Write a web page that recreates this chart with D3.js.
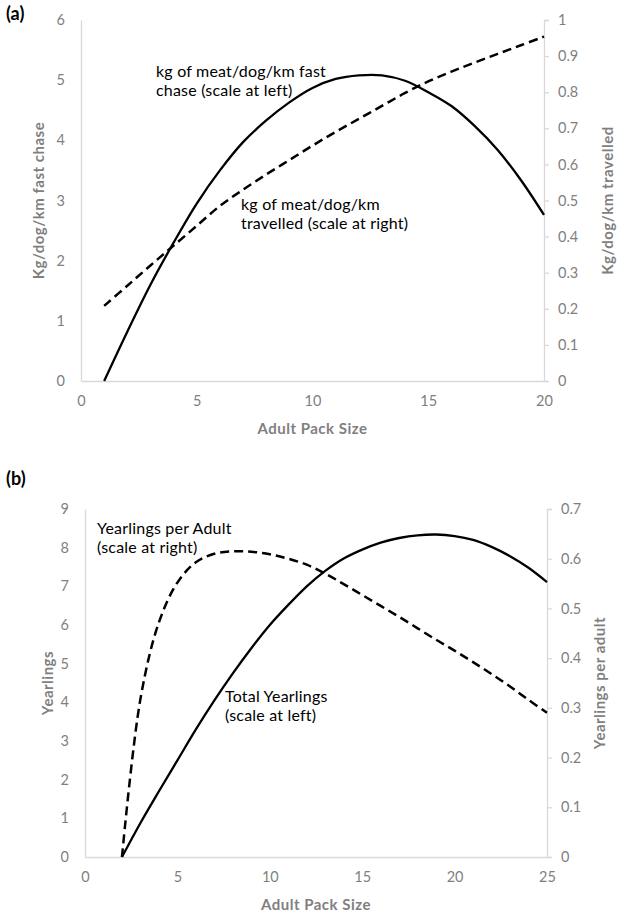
<!DOCTYPE html>
<html>
<head>
<meta charset="utf-8">
<script src="https://cdn.jsdelivr.net/npm/d3@7"></script>
<style>
  body { margin: 0; background: #fff; }
  svg text { font-family: Lato, "Open Sans", sans-serif; }
</style>
</head>
<body>
<svg id="chart" width="617" height="917"></svg>
<script>
// Panel (a): pack size vs kg of meat
var packA = d3.range(1, 21);
var fastChase = [0, 0.82, 1.6, 2.3, 2.95, 3.5, 3.97, 4.33, 4.63, 4.87, 5.02, 5.08, 5.08, 4.99, 4.8, 4.57, 4.24, 3.84, 3.34, 2.76];
var travelled = [0.208, 0.264, 0.32, 0.375, 0.43, 0.485, 0.53, 0.572, 0.612, 0.652, 0.69, 0.726, 0.762, 0.798, 0.83, 0.857, 0.882, 0.906, 0.93, 0.954];

// Panel (b): pack size vs yearlings
var packB = d3.range(2, 26);
var totalYearlings = [0, 0.88, 1.7, 2.5, 3.3, 4.05, 4.75, 5.4, 6.0, 6.52, 7.0, 7.4, 7.72, 7.95, 8.13, 8.25, 8.32, 8.34, 8.3, 8.2, 8.02, 7.78, 7.48, 7.11];
var perAdult = [0, 0.318, 0.472, 0.552, 0.593, 0.61, 0.615, 0.614, 0.609, 0.6, 0.588, 0.57, 0.549, 0.527, 0.505, 0.483, 0.46, 0.437, 0.415, 0.392, 0.368, 0.343, 0.316, 0.29];

// Tick labels
var xTicksA = [0, 5, 10, 15, 20];
var yLeftTicksA = [0, 1, 2, 3, 4, 5, 6];
var yRightTicksA = [0, 0.1, 0.2, 0.3, 0.4, 0.5, 0.6, 0.7, 0.8, 0.9, 1];
var xTicksB = [0, 5, 10, 15, 20, 25];
var yLeftTicksB = [0, 1, 2, 3, 4, 5, 6, 7, 8, 9];
var yRightTicksB = [0, 0.1, 0.2, 0.3, 0.4, 0.5, 0.6, 0.7];

var svg = d3.select("#chart");
var grey = "#7f7f7f";
var axisGrey = "#d9d9d9";
var fmt = d3.format("");

function drawPanel(p) {
  var x = d3.scaleLinear().domain(p.xDomain).range([p.left, p.right]);
  var yL = d3.scaleLinear().domain(p.yLDomain).range([p.bottom, p.top]);
  var yR = d3.scaleLinear().domain(p.yRDomain).range([p.bottom, p.top]);
  var g = svg.append("g");

  // x axis
  var xa = g.append("g")
    .attr("transform", "translate(0," + p.bottom + ")")
    .call(d3.axisBottom(x).tickValues(p.xTicks).tickFormat(fmt).tickSize(0).tickPadding(15));
  // left axis
  var la = g.append("g")
    .attr("transform", "translate(" + p.left + ",0)")
    .call(d3.axisLeft(yL).tickValues(p.yLTicks).tickFormat(fmt).tickSize(0).tickPadding(16));
  // right axis
  var ra = g.append("g")
    .attr("transform", "translate(" + p.right + ",0)")
    .call(d3.axisRight(yR).tickValues(p.yRTicks).tickFormat(fmt).tickSize(5).tickPadding(9));

  [xa, la, ra].forEach(function(a) {
    a.select(".domain").attr("stroke", axisGrey).attr("stroke-width", 1.3);
    a.selectAll(".tick line").attr("stroke", axisGrey).attr("stroke-width", 1.3);
    a.selectAll(".tick text").attr("fill", grey).style("font-size", "14.5px");
  });

  // axis titles
  function title(sel) {
    return sel.attr("text-anchor", "middle").attr("fill", grey)
      .style("font-size", "15px").style("font-weight", "bold")
      .style("letter-spacing", "0.5px");
  }
  title(g.append("text"))
    .attr("x", (p.left + p.right) / 2).attr("y", p.bottom + 53)
    .text("Adult Pack Size");
  title(g.append("text"))
    .attr("transform", "translate(" + p.leftTitleX + "," + (p.top + p.bottom) / 2 + ") rotate(-90)")
    .text(p.leftTitle);
  title(g.append("text"))
    .attr("transform", "translate(" + p.rightTitleX + "," + (p.top + p.bottom) / 2 + ") rotate(-90)")
    .text(p.rightTitle);

  // panel label
  g.append("text")
    .attr("x", 6).attr("y", p.labelY)
    .style("font-size", "18px").style("font-weight", "bold")
    .text(p.label);

  // lines (smoothed like the original spreadsheet chart)
  var curve = d3.curveCatmullRom.alpha(0.5);
  var solid = d3.line()
    .x(function(d, i) { return x(p.xs[i]); })
    .y(function(d) { return yL(d); })
    .curve(curve);
  var dashed = d3.line()
    .x(function(d, i) { return x(p.xs[i]); })
    .y(function(d) { return yR(d); })
    .curve(curve);

  g.append("path").datum(p.leftSeries)
    .attr("d", solid).attr("fill", "none")
    .attr("stroke", "#000").attr("stroke-width", 2.3);
  g.append("path").datum(p.rightSeries)
    .attr("d", dashed).attr("fill", "none")
    .attr("stroke", "#000").attr("stroke-width", 2.5)
    .attr("stroke-dasharray", "9,5");

  // annotations
  p.notes.forEach(function(n) {
    var t = g.append("text").attr("x", n.x).attr("y", n.y)
      .style("font-size", "16px").style("letter-spacing", "0.2px").attr("fill", "#000");
    n.lines.forEach(function(line, i) {
      t.append("tspan").attr("x", n.x).attr("dy", i === 0 ? 0 : 19).text(line);
    });
  });
}

drawPanel({
  label: "(a)", labelY: 20,
  left: 81, right: 544, top: 20, bottom: 381,
  xDomain: [0, 20], yLDomain: [0, 6], yRDomain: [0, 1],
  xTicks: xTicksA, yLTicks: yLeftTicksA, yRTicks: yRightTicksA,
  xs: packA, leftSeries: fastChase, rightSeries: travelled,
  leftTitle: "Kg/dog/km fast chase", rightTitle: "Kg/dog/km travelled",
  leftTitleX: 44, rightTitleX: 613,
  notes: [
    {x: 156, y: 77, lines: ["kg of meat/dog/km fast", "chase (scale at left)"]},
    {x: 241, y: 210, lines: ["kg of meat/dog/km", "travelled (scale at right)"]}
  ]
});

drawPanel({
  label: "(b)", labelY: 485,
  left: 85, right: 547, top: 509, bottom: 857,
  xDomain: [0, 25], yLDomain: [0, 9], yRDomain: [0, 0.7],
  xTicks: xTicksB, yLTicks: yLeftTicksB, yRTicks: yRightTicksB,
  xs: packB, leftSeries: totalYearlings, rightSeries: perAdult,
  leftTitle: "Yearlings", rightTitle: "Yearlings per adult",
  leftTitleX: 53, rightTitleX: 605,
  notes: [
    {x: 97, y: 534, lines: ["Yearlings per Adult", "(scale at right)"]},
    {x: 225, y: 702, lines: ["Total Yearlings", "(scale at left)"]}
  ]
});
</script>
</body>
</html>
